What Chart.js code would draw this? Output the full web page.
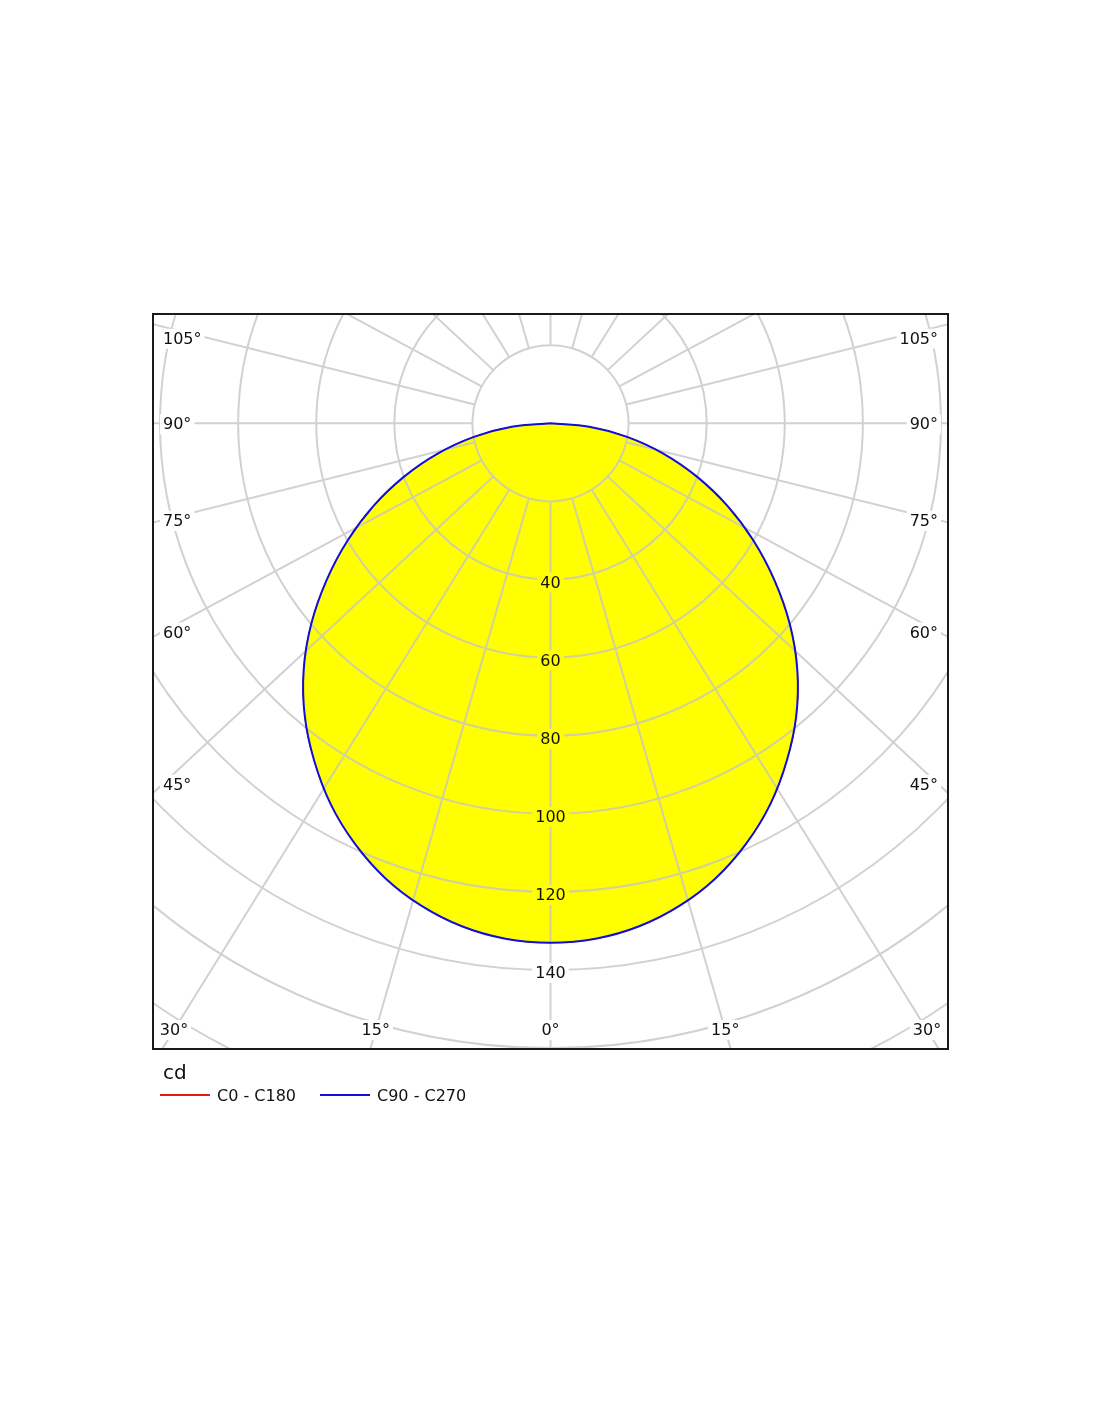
<!DOCTYPE html>
<html>
<head>
<meta charset="utf-8">
<script src="https://cdn.jsdelivr.net/npm/chart.js@4.4.1/dist/chart.umd.min.js"></script>
<style>
  html, body { margin: 0; padding: 0; background: #ffffff; }
  #wrap { position: relative; width: 1100px; height: 1422px; }
  canvas { display: block; }
</style>
</head>
<body>
<div id="wrap"><canvas id="c" width="1100" height="1422"></canvas></div>
<script>
// ---- data (gamma angle in degrees, intensity in cd) ----
const gammaAngles = [0, 5, 10, 15, 20, 25, 30, 35, 40, 45, 50, 55, 60, 65, 70, 75, 80, 85, 90];
const c0c180 =  [133, 132.5, 130.8, 127.9, 123.9, 118.7, 112.6, 105.5, 97.9, 89.4, 80.0, 70.0, 60.0, 50.0, 39.9, 29.9, 19.9, 9.95, 0];
const c90c270 = [133, 132.5, 130.8, 127.9, 123.9, 118.7, 112.6, 105.5, 97.9, 89.4, 80.0, 70.0, 60.0, 50.0, 39.9, 29.9, 19.9, 9.95, 0];
const seriesNames = ['C0 - C180', 'C90 - C270'];
const unitLabel = 'cd';

// ---- grid / tick definitions ----
const ringValues = [20, 40, 60, 80, 100, 120, 140, 160, 180];
const valueTickLabels = [40, 60, 80, 100, 120, 140];
const spokeAngles = [0, 15, 30, 45, 60, 75, 90, 105, 120, 135, 150, 165, 180];
const sideAngleLabels = [45, 60, 75, 90, 105];
const bottomAngleLabels = [0, 15, 30];

const spokeStretch = 1.075;   // reference spokes are slightly widened horizontally
const FONT = '"DejaVu Sans", Verdana, sans-serif';

// polar (gamma, I) -> cartesian, C270 on the left, C90 on the right
function toXY(values) {
  const pts = [];
  for (let i = gammaAngles.length - 1; i >= 0; i--) {
    const a = gammaAngles[i] * Math.PI / 180;
    pts.push({ x: -values[i] * Math.sin(a), y: -values[i] * Math.cos(a) });
  }
  for (let i = 1; i < gammaAngles.length; i++) {
    const a = gammaAngles[i] * Math.PI / 180;
    pts.push({ x: values[i] * Math.sin(a), y: -values[i] * Math.cos(a) });
  }
  return pts;
}

function labelWithBg(ctx, text, x, y, align, bg) {
  ctx.font = '16px ' + FONT;
  const w = ctx.measureText(text).width;
  let left = x;
  if (align === 'center') left = x - w / 2;
  else if (align === 'right') left = x - w;
  ctx.fillStyle = bg;
  ctx.fillRect(left - 3, y - 10, w + 6, 20);
  ctx.fillStyle = '#111111';
  ctx.textAlign = align;
  ctx.textBaseline = 'middle';
  ctx.fillText(text, x, y + 1);
}

const polarGrid = {
  id: 'polarGrid',
  afterDatasetDraw(chart, args) {
    if (args.index !== 0) return;
    const { ctx, chartArea: a, scales: { x, y } } = chart;
    const cx = x.getPixelForValue(0), cy = y.getPixelForValue(0);
    const ppu = y.getPixelForValue(0) - y.getPixelForValue(1);
    ctx.save();
    ctx.beginPath();
    ctx.rect(a.left, a.top, a.width, a.height);
    ctx.clip();

    // circles and spokes in one stroke
    ctx.beginPath();
    ringValues.forEach(r => {
      ctx.moveTo(cx + r * ppu, cy);
      ctx.arc(cx, cy, r * ppu, 0, Math.PI * 2);
    });
    const r0 = ringValues[0] * ppu, r1 = 320 * ppu;
    spokeAngles.forEach(t => {
      const rad = t * Math.PI / 180;
      const sides = (t === 0 || t === 180) ? [1] : [-1, 1];
      sides.forEach(s => {
        let dx = s * spokeStretch * Math.sin(rad), dy = Math.cos(rad);
        const n = Math.hypot(dx, dy); dx /= n; dy /= n;
        ctx.moveTo(cx + dx * r0, cy + dy * r0);
        ctx.lineTo(cx + dx * r1, cy + dy * r1);
      });
    });
    ctx.strokeStyle = 'rgba(196,196,196,0.78)';
    ctx.lineWidth = 2;
    ctx.stroke();

    // value labels along 0 deg
    const meta = chart.getDatasetMeta(0);
    const shape = new Path2D();
    meta.data.forEach((p, i) => { if (i === 0) shape.moveTo(p.x, p.y); else shape.lineTo(p.x, p.y); });
    shape.closePath();
    valueTickLabels.forEach(v => {
      const py = cy + v * ppu + 3;
      const inside = ctx.isPointInPath(shape, cx, py);
      labelWithBg(ctx, String(v), cx, py, 'center', inside ? chart.data.datasets[0].backgroundColor : '#ffffff');
    });

    // side angle labels
    const lx = a.left + 10, rx = a.right - 10;
    sideAngleLabels.forEach(t => {
      const rad = t * Math.PI / 180;
      const slope = Math.cos(rad) / (spokeStretch * Math.sin(rad));
      const nudge = t > 90 ? 12 : 1;
      labelWithBg(ctx, t + '°', lx, cy + (cx - lx) * slope + nudge, 'left', '#ffffff');
      labelWithBg(ctx, t + '°', rx, cy + (rx - cx) * slope + nudge, 'right', '#ffffff');
    });
    // bottom angle labels
    const by = a.bottom - 19;
    bottomAngleLabels.forEach(t => {
      const rad = t * Math.PI / 180;
      const off = (by - cy) * spokeStretch * Math.tan(rad);
      labelWithBg(ctx, t + '°', cx - off, by, 'center', '#ffffff');
      if (t !== 0) labelWithBg(ctx, t + '°', cx + off, by, 'center', '#ffffff');
    });
    ctx.restore();
  },
  afterDraw(chart) {
    const { ctx, chartArea: a } = chart;
    ctx.save();
    ctx.strokeStyle = '#1a1a1a';
    ctx.lineWidth = 2;
    ctx.strokeRect(a.left, a.top, a.width, a.height);

    // legend
    ctx.fillStyle = '#111111';
    ctx.textAlign = 'left';
    ctx.textBaseline = 'middle';
    ctx.font = '20px ' + FONT;
    ctx.fillText(unitLabel, a.left + 10, a.bottom + 25);
    ctx.font = '16px ' + FONT;
    let x = a.left + 7;
    const ly = a.bottom + 46;
    [1, 2].forEach(i => {
      const ds = chart.data.datasets[i];
      ctx.strokeStyle = ds.borderColor;
      ctx.lineWidth = 2;
      ctx.beginPath();
      ctx.moveTo(x, ly); ctx.lineTo(x + 50, ly);
      ctx.stroke();
      ctx.fillStyle = '#111111';
      ctx.fillText(ds.label, x + 57, ly + 2);
      x += 57 + ctx.measureText(ds.label).width + 24;
    });
    ctx.restore();
  }
};

new Chart(document.getElementById('c'), {
  type: 'scatter',
  data: {
    datasets: [
      {
        label: 'fill',
        data: toXY(c90c270),
        showLine: true,
        fill: 'shape',
        backgroundColor: '#ffff00',
        borderColor: 'rgba(0,0,0,0)',
        borderWidth: 0,
        pointRadius: 0,
        tension: 0.4,
        order: 10
      },
      {
        label: seriesNames[0],
        data: toXY(c0c180),
        showLine: true,
        fill: false,
        borderColor: '#e31a1a',
        borderWidth: 1,
        pointRadius: 0,
        tension: 0.4,
        order: 1
      },
      {
        label: seriesNames[1],
        data: toXY(c90c270),
        showLine: true,
        fill: false,
        borderColor: '#1010d8',
        borderWidth: 2,
        pointRadius: 0,
        tension: 0.4,
        order: 0
      }
    ]
  },
  options: {
    responsive: false,
    maintainAspectRatio: false,
    devicePixelRatio: 1,
    animation: false,
    layout: { padding: { left: 153, right: 152, top: 314, bottom: 373 } },
    scales: {
      x: { type: 'linear', min: -101.8, max: 101.8, display: false },
      y: { type: 'linear', min: -160.24, max: 28.0, display: false }
    },
    plugins: {
      legend: { display: false },
      tooltip: { enabled: false }
    },
    events: []
  },
  plugins: [polarGrid]
});
</script>
</body>
</html>
